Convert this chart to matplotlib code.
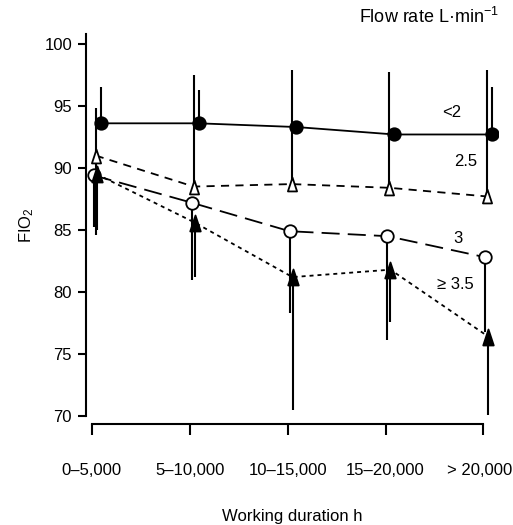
import numpy as np
import matplotlib
matplotlib.use("Agg")
import matplotlib.pyplot as plt
import matplotlib.transforms as mtransforms
from matplotlib.path import Path

plt.rcParams['font.family'] = ['Liberation Sans', 'DejaVu Sans']
plt.rcParams['mathtext.fontset'] = 'custom'
plt.rcParams['mathtext.rm'] = 'Liberation Sans'
plt.rcParams['mathtext.it'] = 'Liberation Sans'
plt.rcParams['mathtext.default'] = 'rm'

categories = ["0–5,000", "5–10,000", "10–15,000", "15–20,000", "> 20,000"]
yticks = [70, 75, 80, 85, 90, 95, 100]

# Flow rate series (FIO2 %)
lt2 = [93.6, 93.6, 93.3, 92.7, 92.7]
lt2_hi = [96.5, 96.3, np.nan, np.nan, 96.5]

f25 = [91.0, 88.5, 88.7, 88.4, 87.7]
f25_hi = [94.8, 97.5, 97.9, 97.7, 97.9]
f25_lo = [84.6, np.nan, np.nan, np.nan, np.nan]

f3 = [89.4, 87.2, 84.9, 84.5, 82.8]
f3_lo = [85.2, 81.0, 78.3, 76.1, 76.8]

f35 = [89.5, 85.6, 81.2, 81.8, 76.4]
f35_lo = [85.0, 81.2, 70.5, 77.6, 70.1]

fig = plt.figure(figsize=(5.13, 5.25), dpi=100)
ax = fig.add_axes([0.1676, 0.2076, 0.8034, 0.7276])

x = np.arange(len(categories))
fs = 12

tri = Path([(-0.33, -0.5), (0.33, -0.5), (0.0, 0.5), (-0.33, -0.5)],
           [Path.MOVETO, Path.LINETO, Path.LINETO, Path.CLOSEPOLY])

def bars(xs, vals, ends):
    for xi, v, e in zip(xs, vals, ends):
        if not np.isnan(e):
            ax.vlines(xi, v, e, color='black', lw=1.5, zorder=2)

series = [
    (lt2, 0.09, '-', 'o', 'black', 9, [lt2_hi]),
    (f25, 0.04, (0, (4.5, 3.5)), tri, 'white', 10, [f25_hi, f25_lo]),
    (f3, 0.02, (0, (10, 4.5)), 'o', 'white', 9, [f3_lo]),
    (f35, 0.05, (0, (2.2, 2.2)), tri, 'black', 11.5, [f35_lo]),
]

for vals, off, ls, mk, fc, ms, errs in series:
    xs = x + off
    for e in errs:
        bars(xs, vals, e)
    ax.plot(xs, vals, linestyle=ls, color='black', lw=1.3, zorder=3)
    ax.plot(xs, vals, linestyle='none', marker=mk, ms=ms, mfc=fc, mec='black', mew=1.3, zorder=4)

ax.set_xlim(-0.06, 4.15)
ax.set_ylim(70, 100.8)
ax.spines['top'].set_visible(False)
ax.spines['right'].set_visible(False)
ax.spines['left'].set_bounds(70, 100.8)
ax.spines['bottom'].set_bounds(0, 4)
ax.spines['bottom'].set_position(('outward', 6))
ax.spines['left'].set_linewidth(1.5)
ax.spines['bottom'].set_linewidth(1.5)

ax.set_xticks(x)
ax.set_xticklabels(categories, fontsize=fs)
ax.set_yticks(yticks)
ax.set_yticklabels([str(t) for t in yticks], fontsize=fs)
ax.tick_params(axis='x', direction='out', length=8, width=1.5, pad=20)
ax.tick_params(axis='y', direction='out', length=6, width=1.5, pad=4)

last = ax.get_xticklabels()[-1]
last.set_transform(last.get_transform() + mtransforms.ScaledTranslation(-4 / 100, 0, fig.dpi_scale_trans))

ax.set_xlabel('Working duration h', fontsize=fs, labelpad=22)
ax.set_ylabel('FIO$_2$', fontsize=fs, labelpad=6)

ax.text(3.68, 94.5, '<2', fontsize=fs, ha='center', va='center')
ax.text(3.82, 90.5, '2.5', fontsize=fs, ha='center', va='center')
ax.text(3.74, 84.35, '3', fontsize=fs, ha='center', va='center')
ax.text(3.71, 80.6, '≥ 3.5', fontsize=fs, ha='center', va='center')

fig.text(0.836, 0.968, 'Flow rate L·min$^{-1}$', fontsize=13, ha='center', va='center')

fig.savefig('out.png', dpi=100)
